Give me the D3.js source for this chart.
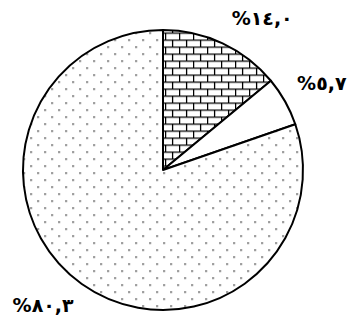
<!DOCTYPE html>
<html>
<head>
<meta charset="utf-8">
<script src="https://cdn.jsdelivr.net/npm/d3@7"></script>
<style>
  body { margin: 0; background: #fff; }
  svg { display: block; }
</style>
</head>
<body>
<script>
// slice values (percent), clockwise from 12 o'clock
var values = [14.0, 5.7, 80.3];
var labels = ["%١٤,٠", "%٥,٧", "%٨٠,٣"];
var fills = ["url(#bricks)", "#fff", "url(#dots)"];

var w = 349, h = 327;
var cx = 163, cy = 170, r = 140;

var svg = d3.select("body").append("svg")
  .attr("width", w)
  .attr("height", h);

var defs = svg.append("defs");

// brick pattern
var bp = defs.append("pattern")
  .attr("id", "bricks")
  .attr("patternUnits", "userSpaceOnUse")
  .attr("width", 14).attr("height", 14)
  .attr("x", 2).attr("y", 2.5);
bp.append("rect").attr("width", 14).attr("height", 14).attr("fill", "#fff");
bp.append("path")
  .attr("d", "M0,0.6H14M0,7.6H14M0.6,0V7.6M7.6,7.6V14")
  .attr("stroke", "#000")
  .attr("stroke-width", 1.3)
  .attr("fill", "none");

// dotted pattern
var dp = defs.append("pattern")
  .attr("id", "dots")
  .attr("patternUnits", "userSpaceOnUse")
  .attr("width", 14).attr("height", 14)
  .attr("x", 0.3).attr("y", 2.3);
dp.append("rect").attr("width", 14).attr("height", 14).attr("fill", "#fff");
dp.append("rect").attr("x", 0).attr("y", 0).attr("width", 1.6).attr("height", 1.6).attr("fill", "#444");
dp.append("rect").attr("x", 7).attr("y", 7).attr("width", 1.6).attr("height", 1.6).attr("fill", "#444");

var pie = d3.pie().sort(null).value(function(d) { return d; });
var arc = d3.arc().innerRadius(0).outerRadius(r);
var arcs = pie(values);

var g = svg.append("g").attr("transform", "translate(" + cx + "," + cy + ")");

g.selectAll("path.slice")
  .data(arcs)
  .enter()
  .append("path")
  .attr("class", "slice")
  .attr("d", arc)
  .attr("fill", function(d, i) { return fills[i]; })
  .attr("stroke", "#000")
  .attr("stroke-width", 2)
  .attr("stroke-linejoin", "round");

// label placement: radius and angle nudge from slice middle
var labelArc = d3.arc().innerRadius(181).outerRadius(181);
var labelTurn = [0.14, 0.012, 0.105]; // radians added to mid angle

g.selectAll("text")
  .data(arcs)
  .enter()
  .append("text")
  .text(function(d, i) { return labels[i]; })
  .attr("transform", function(d, i) {
    var a = (d.startAngle + d.endAngle) / 2 + labelTurn[i];
    var p = labelArc.centroid({ startAngle: a, endAngle: a });
    return "translate(" + p[0] + "," + p[1] + ")";
  })
  .attr("dy", "0.35em")
  .attr("text-anchor", "middle")
  .attr("font-family", "DejaVu Sans, sans-serif")
  .attr("font-weight", "bold")
  .attr("font-size", "19px")
  .attr("letter-spacing", "2px")
  .attr("fill", "#000")
  .style("direction", "ltr")
  .style("unicode-bidi", "bidi-override");
</script>
</body>
</html>
